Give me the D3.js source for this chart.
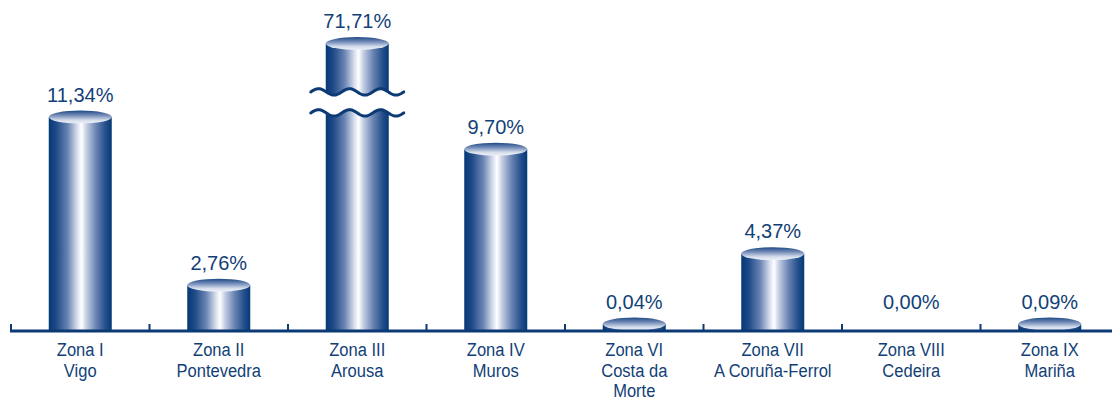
<!DOCTYPE html>
<html>
<head>
<meta charset="utf-8">
<script src="https://cdn.jsdelivr.net/npm/d3@7"></script>
<style>
  html, body { margin: 0; padding: 0; background: #ffffff; }
  svg { display: block; font-family: "Liberation Sans", Arial, sans-serif; }
</style>
</head>
<body>
<svg id="chart" width="1112" height="398"></svg>
<script>
// ---- data ----
const zoneNames = ["Zona I", "Zona II", "Zona III", "Zona IV", "Zona VI", "Zona VII", "Zona VIII", "Zona IX"];
const zonePlaces = [["Vigo"], ["Pontevedra"], ["Arousa"], ["Muros"], ["Costa da", "Morte"], ["A Coruña-Ferrol"], ["Cedeira"], ["Mariña"]];
const values = [11.34, 2.76, 71.71, 9.70, 0.04, 4.37, 0.00, 0.09];
// axis break (values skipped on the broken bar)
const breakLow = 11.55;
const breakHigh = 69.24;

// ---- layout ----
const W = 1112, H = 398;
const axisY = 331;
const barW = 63, ry = 6.5;
const navy = "#0b3a75";
const textColor = "#123f77";

const svg = d3.select("#chart");

const x = d3.scalePoint().domain(zoneNames).range([11, 1119]).padding(0.5);
const step = x.step();

// broken linear scale: same slope below and above the break
const k = 19.6;
const y0 = 339.3;
const yBreakLow = y0 - k * breakLow;
const gap = 21;
const yBreakHigh = yBreakLow - gap;
const yMax = 80;
const y = d3.scaleLinear()
  .domain([0, breakLow, breakHigh, yMax])
  .range([y0, yBreakLow, yBreakHigh, yBreakHigh - (yMax - breakHigh) * k]);

const fmt = d3.formatLocale({decimal: ",", thousands: ".", grouping: [3], currency: ["", "€"]}).format(".2f");

// gradients
const defs = svg.append("defs");
const gBody = defs.append("linearGradient").attr("id", "body").attr("x1", 0).attr("x2", 1).attr("y1", 0).attr("y2", 0);
[[0, "#053877"], [0.12, "#1f4a87"], [0.3, "#6a84b3"], [0.45, "#d5dcec"], [0.52, "#ffffff"], [0.6, "#c3cde3"], [0.75, "#6a84b3"], [0.9, "#24508c"], [1, "#053877"]]
  .forEach(([o, c]) => gBody.append("stop").attr("offset", o).attr("stop-color", c));
const gTop = defs.append("linearGradient").attr("id", "top").attr("x1", 0).attr("x2", 0).attr("y1", 0).attr("y2", 1);
[[0, "#1d4884"], [0.35, "#6f88b5"], [0.75, "#d6deec"], [1, "#eef1f8"]]
  .forEach(([o, c]) => gTop.append("stop").attr("offset", o).attr("stop-color", c));

const minTop = 324;
const bars = zoneNames.map((name, i) => {
  const v = values[i];
  const cx = x(name);
  const top = v > 0 ? Math.min(y(v), minTop) : minTop;
  return {name, v, cx, top, i};
});

const gBars = svg.append("g");
bars.filter(d => d.v > 0).forEach(d => {
  gBars.append("rect")
    .attr("x", d.cx - barW / 2).attr("y", d.top)
    .attr("width", barW).attr("height", Math.max(0, axisY - d.top))
    .attr("fill", "url(#body)");
  gBars.append("ellipse")
    .attr("cx", d.cx).attr("cy", d.top)
    .attr("rx", barW / 2).attr("ry", ry)
    .attr("fill", "url(#top)");
});

// break marks on bars exceeding breakHigh
bars.filter(d => d.v > breakHigh).forEach(d => {
  const half = 46.5, period = 31, amp = 3.2;
  const wave = (yc) => d3.range(0, 2 * half + 0.5, 1).map(t => [d.cx - half + t, yc + amp * Math.sin((t / period) * 2 * Math.PI + Math.PI)]);
  const upper = wave(yBreakHigh);
  const lower = wave(yBreakLow);
  const line = d3.line();
  svg.append("path")
    .attr("d", line(upper.concat(lower.slice().reverse())) + "Z")
    .attr("fill", "#ffffff");
  [upper, lower].forEach(w => svg.append("path").attr("d", line(w))
    .attr("fill", "none").attr("stroke", navy).attr("stroke-width", 3).attr("stroke-linecap", "round"));
});

// axis
svg.append("line").attr("x1", 10).attr("x2", W).attr("y1", axisY).attr("y2", axisY)
  .attr("stroke", navy).attr("stroke-width", 3);
const boundaries = d3.range(zoneNames.length + 1).map(i => x(zoneNames[0]) - step / 2 + i * step);
svg.selectAll("line.tick").data(boundaries).join("line").attr("class", "tick")
  .attr("x1", d => d).attr("x2", d => d).attr("y1", axisY - 7).attr("y2", axisY)
  .attr("stroke", navy).attr("stroke-width", 2);

// value labels
svg.selectAll("text.val").data(bars).join("text").attr("class", "val")
  .attr("x", d => d.cx).attr("y", d => d.top - ry - 9)
  .attr("text-anchor", "middle").attr("font-size", 20).attr("fill", textColor)
  .text(d => fmt(d.v) + "%");

// category labels (condensed)
bars.forEach(d => {
  const lines = [d.name].concat(zonePlaces[d.i]);
  const g = svg.append("g").attr("transform", `translate(${d.cx},0) scale(0.87,1)`);
  const t = g.append("text").attr("text-anchor", "middle").attr("font-size", 19).attr("fill", textColor);
  lines.forEach((l, j) => t.append("tspan").attr("x", 0).attr("y", 356 + j * 20.7).text(l));
});
</script>
</body>
</html>
